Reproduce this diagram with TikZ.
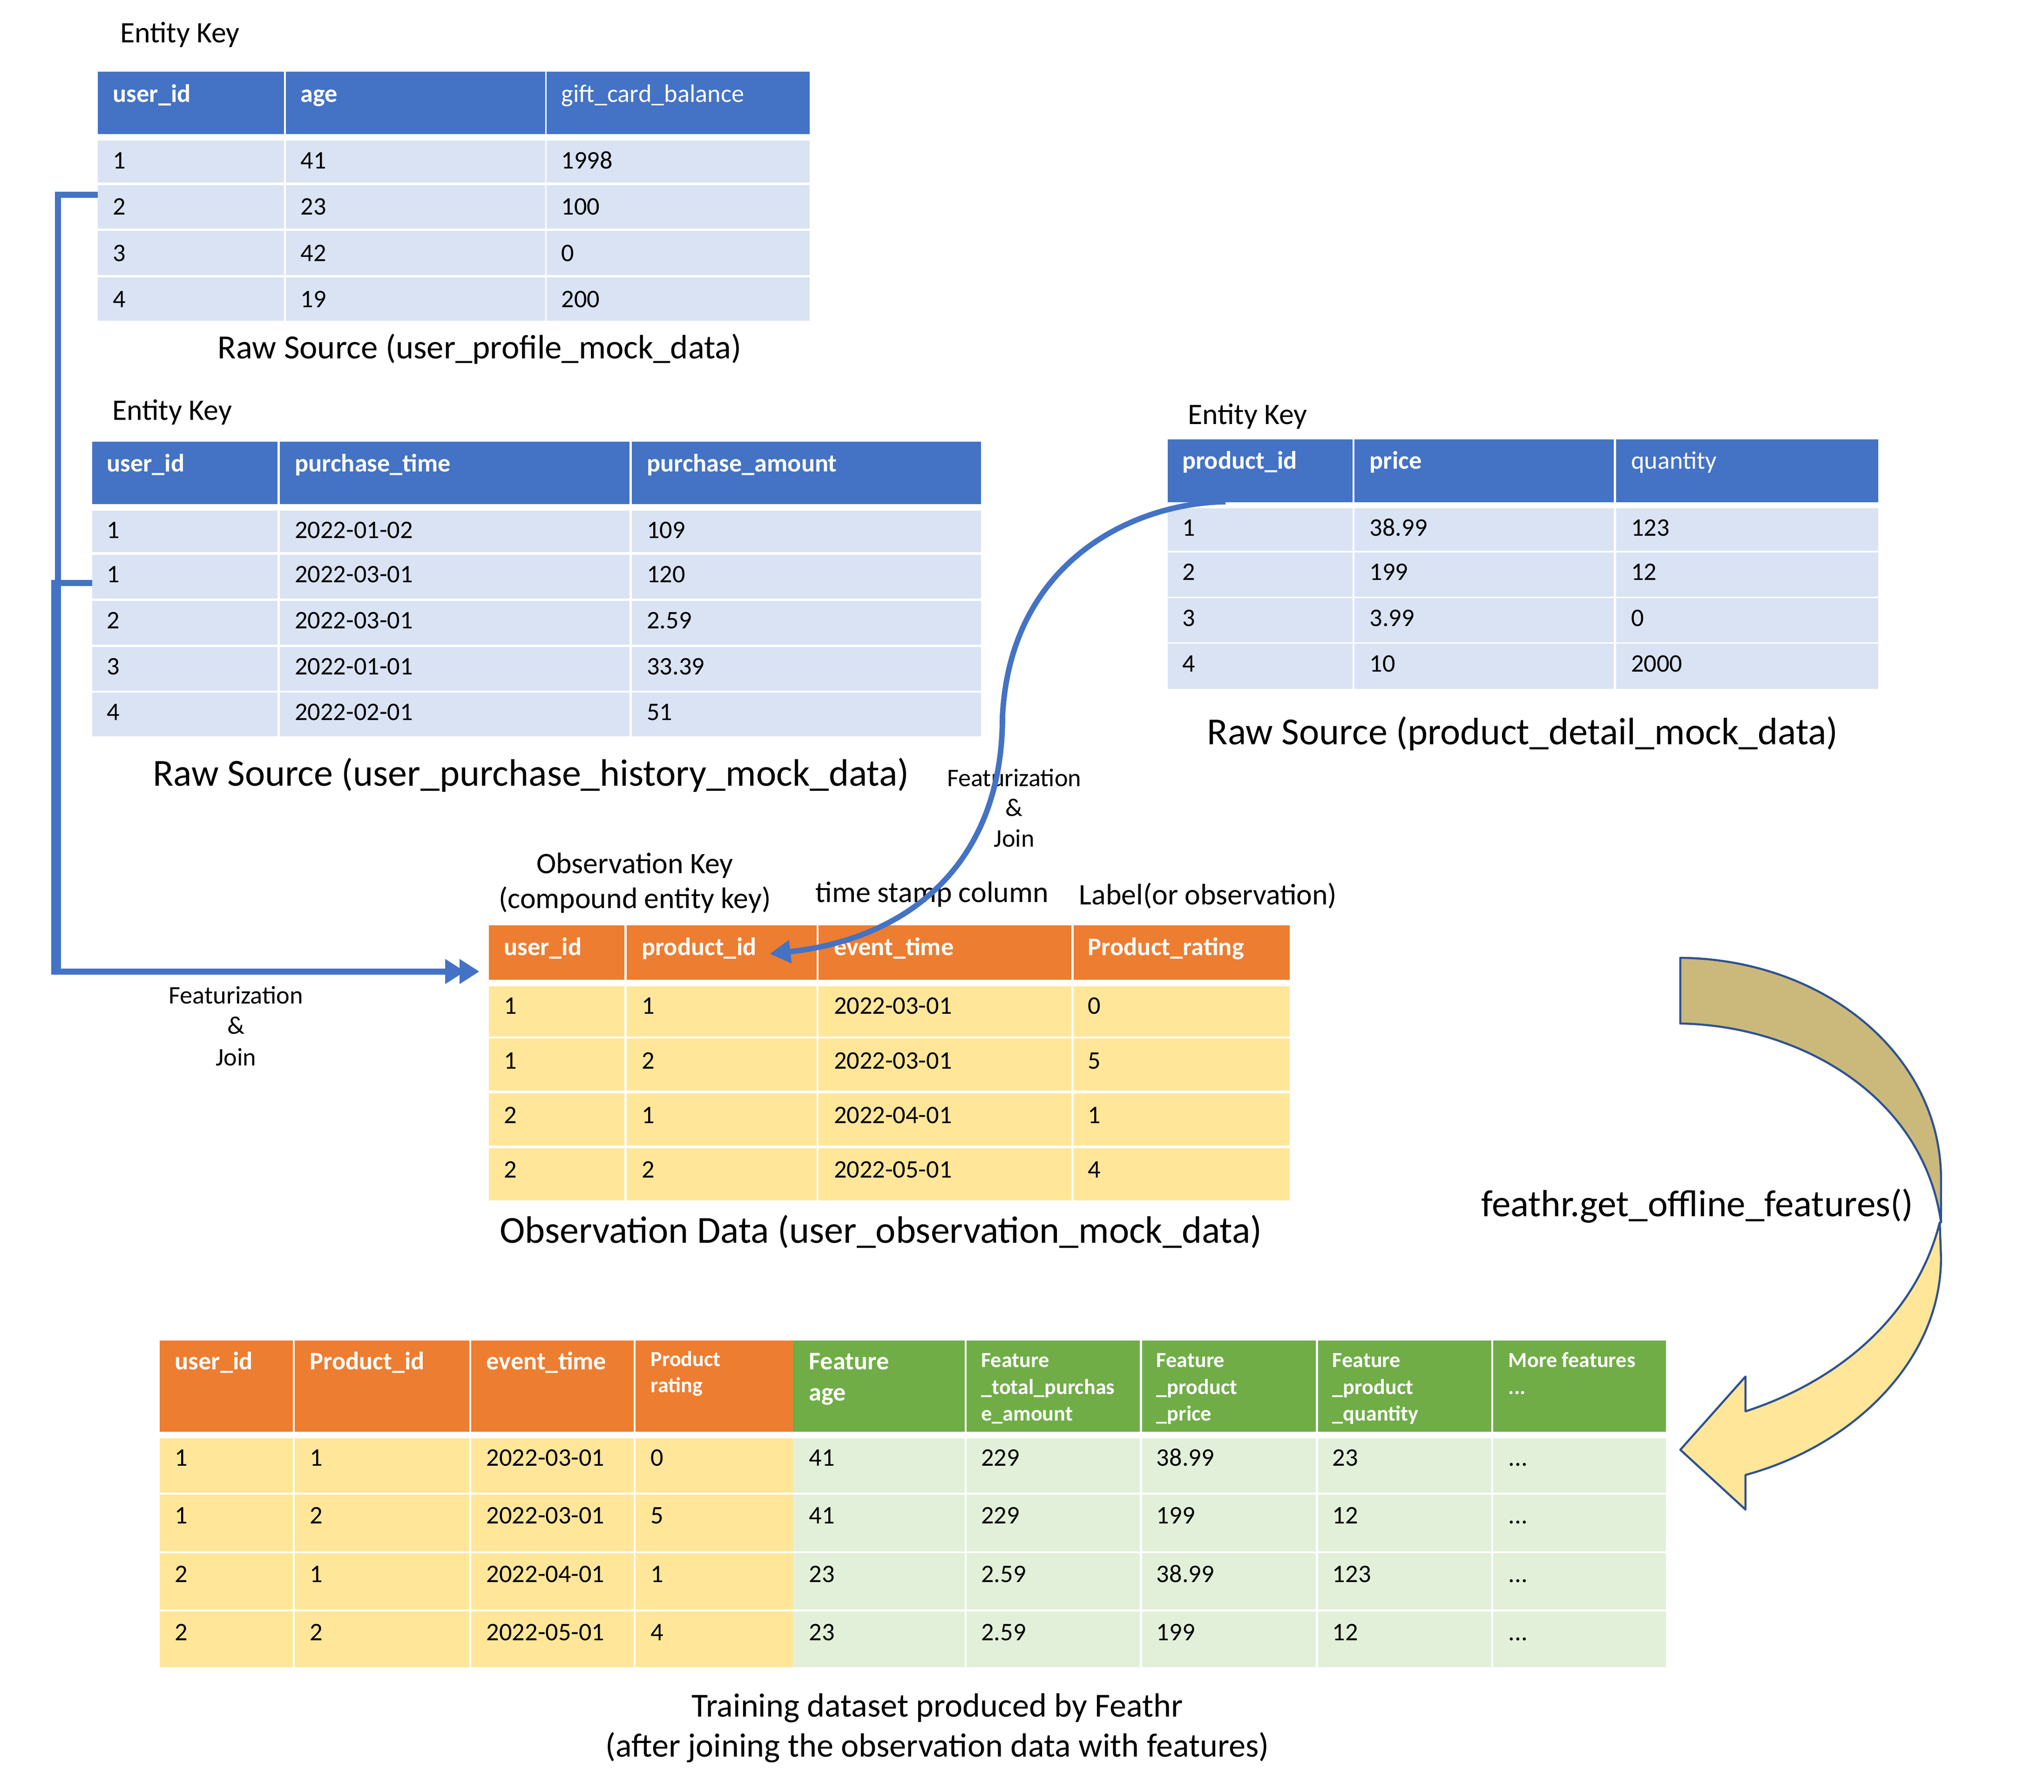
\documentclass[tikz,border=0pt]{standalone}
\usepackage{fontspec}
\setmainfont{Carlito}
\usetikzlibrary{arrows.meta}
\definecolor{hblue}{HTML}{4472C4}
\definecolor{rblue}{HTML}{DAE3F3}
\definecolor{horange}{HTML}{ED7D31}
\definecolor{ryellow}{HTML}{FFE699}
\definecolor{hgreen}{HTML}{70AD47}
\definecolor{rgreen}{HTML}{E2F0D9}
\definecolor{khaki}{HTML}{CBB97C}
\definecolor{outl}{HTML}{2F528F}
\begin{document}
\begin{tikzpicture}[x=1pt,y=-1pt,
  cell/.style={anchor=base west,inner sep=0pt,font=\fontsize{19.4}{23}\selectfont},
  hdw/.style={cell,text=white,font=\fontsize{19.4}{23}\selectfont\bfseries},
  hdr/.style={cell,text=white},
  hsm/.style={cell,text=white,font=\fontsize{16.5}{20}\selectfont\bfseries},
  lbl/.style={anchor=base,inner sep=0pt,font=\fontsize{22.8}{27}\selectfont},
  captext/.style={anchor=base,inner sep=0pt,font=\fontsize{29.3}{34}\selectfont},
  fj/.style={anchor=base,inner sep=0pt,font=\fontsize{19.4}{23}\selectfont},
  link/.style={draw=hblue,line width=4.5pt},
  bigarrow/.style={draw=outl,line width=1.6pt,line join=round}]
\useasboundingbox (0,0) rectangle (1568,1375);

%% ---------- Table 1: user_profile ----------
\foreach \xa/\xb in {75/217.7,219.4/418.2,419.4/621.1}{
  \fill[hblue] (\xa,55) rectangle (\xb,103);
  \foreach \ya/\yb in {108/140,142/175.3,177/211,212.7/246}
    \fill[rblue] (\xa,\ya) rectangle (\xb,\yb);
}
\node[lbl,anchor=base west] (ek1) at (92,32.8) {Entity Key};
\node[hdw] (a-h1) at (86.5,78.4) {user\_id};
\node[hdw] (a-h2) at (230.5,78.4) {age};
\node[hdr] (a-h3) at (430.5,78.4) {gift\_card\_balance};
\foreach \yy/\ca/\cb/\cc [count=\i] in {129.4/1/41/1998,164.9/2/23/100,200.4/3/42/0,236/4/19/200}{
  \node[cell] (a-\i-1) at (86.5,\yy) {\ca};
  \node[cell] (a-\i-2) at (230.5,\yy) {\cb};
  \node[cell] (a-\i-3) at (430.5,\yy) {\cc};
}
\node[anchor=base,inner sep=0pt,font=\fontsize{26}{30}\selectfont] (cap1) at (368,275.1) {Raw Source (user\_profile\_mock\_data)};

%% ---------- Table 2: user_purchase_history ----------
\foreach \xa/\xb in {70.7/213,214.6/483,484.6/752.6}{
  \fill[hblue] (\xa,339) rectangle (\xb,386.8);
  \foreach \ya/\yb in {391.8/423.6,425.7/459.3,461/494.8,496.4/530,531.4/565}
    \fill[rblue] (\xa,\ya) rectangle (\xb,\yb);
}
\node[lbl,anchor=base west] (ek2) at (86,322.5) {Entity Key};
\node[hdw] (b-h1) at (81.7,362) {user\_id};
\node[hdw] (b-h2) at (226,362) {purchase\_time};
\node[hdw] (b-h3) at (496,362) {purchase\_amount};
\foreach \yy/\ca/\cb/\cc [count=\i] in {413.2/1/2022-01-02/109,447.1/1/2022-03-01/120,482.4/2/2022-03-01/2.59,517.8/3/2022-01-01/33.39,552.8/4/2022-02-01/51}{
  \node[cell] (b-\i-1) at (81.7,\yy) {\ca};
  \node[cell] (b-\i-2) at (226,\yy) {\cb};
  \node[cell] (b-\i-3) at (496,\yy) {\cc};
}
\node[captext] (cap2) at (407.3,603) {Raw Source (user\_purchase\_history\_mock\_data)};

%% ---------- Table 3: product_detail ----------
\foreach \xa/\xb in {895.7/1037.5,1039/1238,1239.6/1441}{
  \fill[hblue] (\xa,337) rectangle (\xb,385.4);
  \foreach \ya/\yb in {390/422.5,423.8/457.9,459/493,494/528.6}
    \fill[rblue] (\xa,\ya) rectangle (\xb,\yb);
}
\node[lbl,anchor=base west] (ek3) at (911,325.4) {Entity Key};
\node[hdw] (c-h1) at (906.7,360) {product\_id};
\node[hdw] (c-h2) at (1050.5,360) {price};
\node[hdr] (c-h3) at (1251,360) {quantity};
\foreach \yy/\ca/\cb/\cc [count=\i] in {411.4/1/38.99/123,445.2/2/199/12,480.4/3/3.99/0,515.4/4/10/2000}{
  \node[cell] (c-\i-1) at (906.7,\yy) {\ca};
  \node[cell] (c-\i-2) at (1050.5,\yy) {\cb};
  \node[cell] (c-\i-3) at (1251,\yy) {\cc};
}
\node[captext] (cap3) at (1168,571.4) {Raw Source (product\_detail\_mock\_data)};

%% ---------- Observation table ----------
\foreach \xa/\xb in {375/479,480.6/626.5,628/822,823.5/989.4}{
  \fill[horange] (\xa,710) rectangle (\xb,752);
  \foreach \ya/\yb in {756.8/795.4,797/837,839/879,881/921}
    \fill[ryellow] (\xa,\ya) rectangle (\xb,\yb);
}
\node[lbl] (okey1) at (487,670.4) {Observation Key};
\node[lbl] (okey2) at (487,697.1) {(compound entity key)};
\node[lbl] (tsc) at (715,692.4) {time stamp column};
\node[lbl] (lobs) at (926.7,694) {Label(or observation)};
\node[hdw] (d-h1) at (386.4,733.2) {user\_id};
\node[hdw] (d-h2) at (492,733.2) {product\_id};
\node[hdw] (d-h3) at (639.5,733.2) {event\_time};
\node[hdw] (d-h4) at (834.5,733.2) {Product\_rating};
\foreach \yy/\ca/\cb/\cc/\cd [count=\i] in {778.2/1/1/2022-03-01/0,820.3/1/2/2022-03-01/5,862/2/1/2022-04-01/1,904/2/2/2022-05-01/4}{
  \node[cell] (d-\i-1) at (386.4,\yy) {\ca};
  \node[cell] (d-\i-2) at (492,\yy) {\cb};
  \node[cell] (d-\i-3) at (639.5,\yy) {\cc};
  \node[cell] (d-\i-4) at (834.5,\yy) {\cd};
}
\node[captext] (cap4) at (675.7,953.8) {Observation Data (user\_observation\_mock\_data)};

%% ---------- Training table ----------
\foreach \xa/\xb in {122.6/224.5,226/360,361.5/486,487.5/608.3}{
  \fill[horange] (\xa,1028.6) rectangle (\xb,1098.7);
  \foreach \ya/\yb in {1103.8/1145.4,1147/1190.4,1192/1235,1236.6/1279.5}
    \fill[ryellow] (\xa,\ya) rectangle (\xb,\yb);
}
\foreach \xa/\xb in {608.3/740,741.6/874.5,876/1009.5,1011/1144,1145.6/1278}{
  \fill[hgreen] (\xa,1028.6) rectangle (\xb,1098.7);
  \foreach \ya/\yb in {1103.8/1145.4,1147/1190.4,1192/1235,1236.6/1279.5}
    \fill[rgreen] (\xa,\ya) rectangle (\xb,\yb);
}
\node[hdw] (e-h1) at (134,1050.9) {user\_id};
\node[hdw] (e-h2) at (237.5,1050.9) {Product\_id};
\node[hdw] (e-h3) at (373,1050.9) {event\_time};
\node[hsm] (e-h4a) at (499,1048.3) {Product};
\node[hsm] (e-h4b) at (499,1068.4) {rating};
\node[hdw] (e-h5a) at (620.5,1050.9) {Feature};
\node[hdw] (e-h5b) at (620.5,1074.8) {age};
\node[hsm] (e-h6a) at (752.5,1049.3) {Feature};
\node[hsm] (e-h6b) at (752.5,1069.8) {\_total\_purchas};
\node[hsm] (e-h6c) at (752.5,1090.3) {e\_amount};
\node[hsm] (e-h7a) at (887,1049.3) {Feature};
\node[hsm] (e-h7b) at (887,1069.8) {\_product};
\node[hsm] (e-h7c) at (887,1090.3) {\_price};
\node[hsm] (e-h8a) at (1022,1049.3) {Feature};
\node[hsm] (e-h8b) at (1022,1069.8) {\_product};
\node[hsm] (e-h8c) at (1022,1090.3) {\_quantity};
\node[hsm] (e-h9a) at (1157,1049.3) {More features};
\node[hsm] (e-h9b) at (1157,1069.8) {...};
\foreach \yy/\ca/\cb/\cc/\cd/\ce/\cf/\cg/\ch [count=\i] in
  {1125/1/1/2022-03-01/0/41/229/38.99/23,
   1169.3/1/2/2022-03-01/5/41/229/199/12,
   1214.3/2/1/2022-04-01/1/23/2.59/38.99/123,
   1259/2/2/2022-05-01/4/23/2.59/199/12}{
  \node[cell] (e-\i-1) at (134,\yy) {\ca};
  \node[cell] (e-\i-2) at (237.5,\yy) {\cb};
  \node[cell] (e-\i-3) at (373,\yy) {\cc};
  \node[cell] (e-\i-4) at (499,\yy) {\cd};
  \node[cell] (e-\i-5) at (620.5,\yy) {\ce};
  \node[cell] (e-\i-6) at (752.5,\yy) {\cf};
  \node[cell] (e-\i-7) at (887,\yy) {\cg};
  \node[cell] (e-\i-8) at (1022,\yy) {\ch};
  \node[cell] (e-\i-9) at (1157,\yy) {...};
}
\node[anchor=base,inner sep=0pt,font=\fontsize{25.8}{30}\selectfont] (cap5a) at (719,1317.4) {Training dataset produced by Feathr};
\node[anchor=base,inner sep=0pt,font=\fontsize{25.8}{30}\selectfont] (cap5b) at (719,1348.1) {(after joining the observation data with features)};

%% ---------- Featurization labels ----------
\node[fj] (fj1a) at (181,770.4) {Featurization};
\node[fj] (fj1b) at (181,793.5) {\&};
\node[fj] (fj1c) at (181,817.6) {Join};
\node[fj] (fj2a) at (778,603.4) {Featurization};
\node[fj] (fj2b) at (778,626.4) {\&};
\node[fj] (fj2c) at (778,650) {Join};

%% ---------- Connectors ----------
\coordinate (ua) at (75,149.5);
\coordinate (ub) at (70.7,447.3);
\coordinate (ja) at (44.5,745.5);
\coordinate (jb) at (41.6,745.5);
\coordinate (obsin) at (367.6,745.5);
\draw[link,-{Triangle[length=15pt,width=18pt,sep=-4pt]Triangle[length=15pt,width=18pt]}] (ua) -| (ja) -- (obsin);
\draw[link,-{Triangle[length=15pt,width=18pt,sep=-4pt]Triangle[length=15pt,width=18pt]}] (ub) -| (jb) -- (obsin);

\coordinate (pstart) at (940,385);
\coordinate (pmid) at (769,550);
\coordinate (pend) at (590.4,732);
\draw[link,line width=4.2pt,-{Triangle[length=16pt,width=17pt]}] (pstart) .. controls (870,386) and (775,430) .. (pmid) .. controls (769,660) and (700,720) .. (pend);

%% ---------- feathr curved arrow ----------
\filldraw[bigarrow,fill=khaki] (1289,735) .. controls (1400,736) and (1489,810) .. (1489,905)
   -- (1489,938) .. controls (1475,840) and (1380,787) .. (1289,785.4) -- cycle;
\filldraw[bigarrow,fill=ryellow] (1488,938) .. controls (1470,1010) and (1410,1060) .. (1339,1083)
   -- (1339,1056.3) -- (1289,1112.5) -- (1339,1158.4) -- (1339,1131.8)
   .. controls (1420,1110) and (1489,1045) .. (1489,965) -- cycle;
\node[anchor=base,inner sep=0pt,font=\fontsize{29}{34}\selectfont] (feathr) at (1302,933.4) {feathr.get\_offline\_features()};
\end{tikzpicture}
\end{document}
